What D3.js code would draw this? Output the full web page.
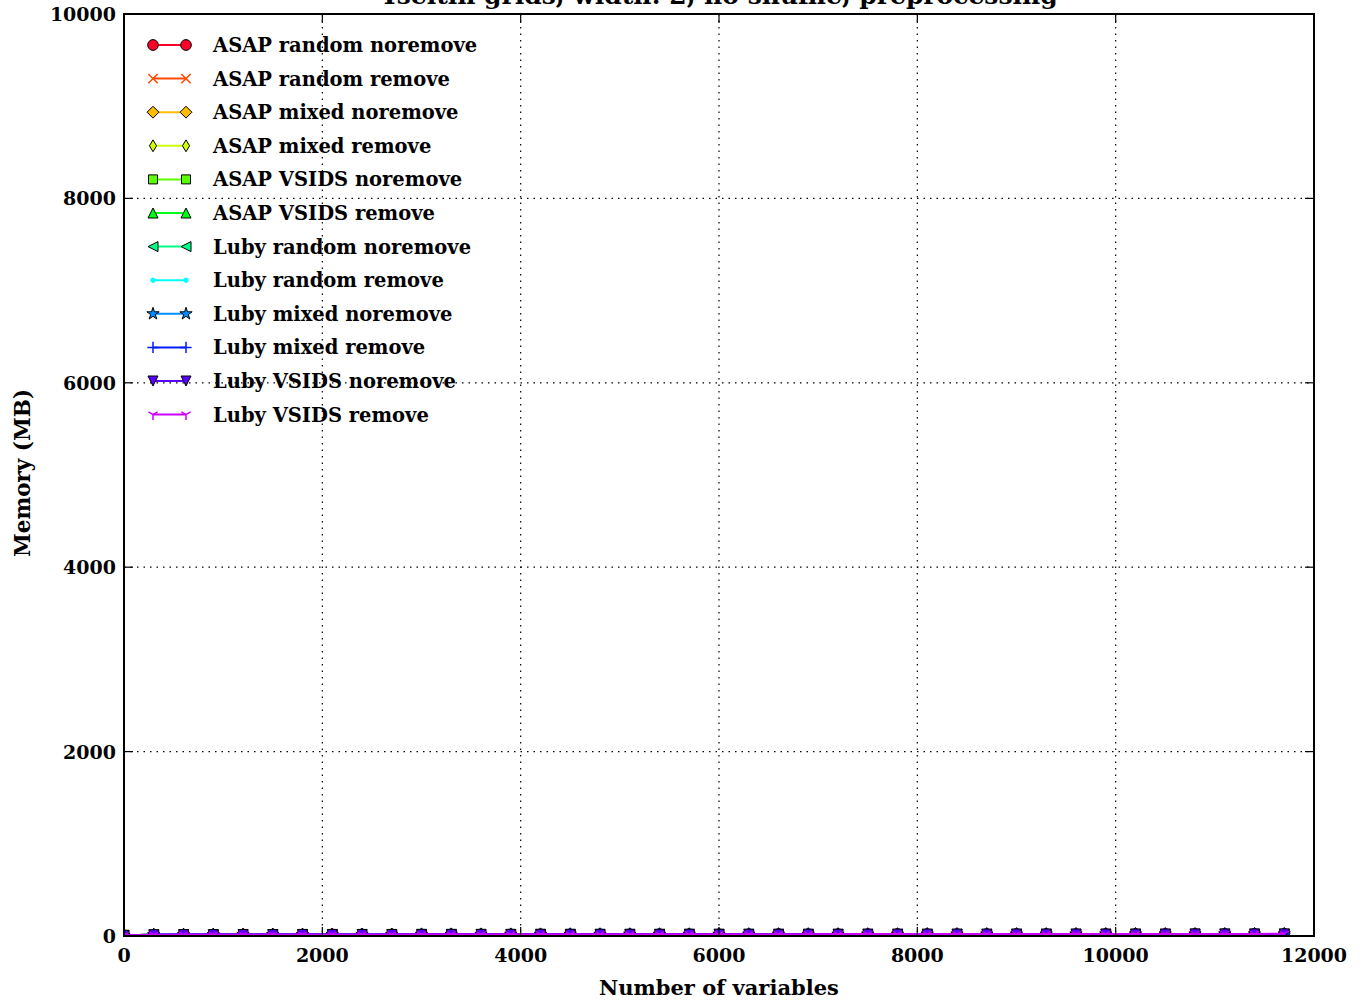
<!DOCTYPE html>
<html><head><meta charset="utf-8">
<script src="https://cdn.jsdelivr.net/npm/d3@7"></script>
<style>
body{margin:0;background:#fff;}
text{font-family:"DejaVu Serif",serif;font-weight:bold;fill:#000;}
</style></head><body>
<svg id="chart" width="1365" height="1000"></svg>
<script>
const title = "Tseitin grids, width: 2, no shuffle, preprocessing";
const xLabel = "Number of variables";
const yLabel = "Memory (MB)";
const xTicks = [0, 2000, 4000, 6000, 8000, 10000, 12000];
const yTicks = [0, 2000, 4000, 6000, 8000, 10000];
const seriesNames = ["ASAP random noremove","ASAP random remove","ASAP mixed noremove","ASAP mixed remove","ASAP VSIDS noremove","ASAP VSIDS remove","Luby random noremove","Luby random remove","Luby mixed noremove","Luby mixed remove","Luby VSIDS noremove","Luby VSIDS remove"];
const variables = [0,300,600,900,1200,1500,1800,2100,2400,2700,3000,3300,3600,3900,4200,4500,4800,5100,5400,5700,6000,6300,6600,6900,7200,7500,7800,8100,8400,8700,9000,9300,9600,9900,10200,10500,10800,11100,11400,11700];
const memASAPrandomNoremove = [8,14,15,15,16,16,16,17,17,17,17,18,18,18,18,18,19,19,19,19,19,19,20,20,20,20,20,20,21,21,21,21,21,21,22,22,22,22,22,22];
const memASAPrandomRemove   = [8,14,15,15,16,16,16,17,17,17,17,18,18,18,18,18,19,19,19,19,19,19,20,20,20,20,20,20,21,21,21,21,21,22,22,22,22,22,22,23];
const memASAPmixedNoremove  = [8,14,15,15,16,16,16,17,17,17,18,18,18,18,18,19,19,19,19,19,19,20,20,20,20,20,20,21,21,21,21,21,21,22,22,22,22,22,22,23];
const memASAPmixedRemove    = [8,14,15,15,16,16,16,17,17,17,18,18,18,18,18,19,19,19,19,19,19,20,20,20,20,20,21,21,21,21,21,21,22,22,22,22,22,22,23,23];
const memASAPVSIDSNoremove  = [8,14,15,15,16,16,17,17,17,17,18,18,18,18,19,19,19,19,19,20,20,20,20,20,20,21,21,21,21,21,21,22,22,22,22,22,23,23,23,23];
const memASAPVSIDSRemove    = [8,14,15,15,16,16,17,17,17,17,18,18,18,18,19,19,19,19,19,20,20,20,20,20,21,21,21,21,21,21,22,22,22,22,22,23,23,23,23,23];
const memLubyRandomNoremove = [8,14,15,15,16,16,16,17,17,17,17,18,18,18,18,18,19,19,19,19,19,19,20,20,20,20,20,20,21,21,21,21,21,21,22,22,22,22,22,22];
const memLubyRandomRemove   = [8,14,15,15,16,16,16,17,17,17,17,18,18,18,18,18,19,19,19,19,19,20,20,20,20,20,20,21,21,21,21,21,21,22,22,22,22,22,22,23];
const memLubyMixedNoremove  = [8,14,15,15,16,16,16,17,17,17,18,18,18,18,18,19,19,19,19,19,19,20,20,20,20,20,20,21,21,21,21,21,22,22,22,22,22,22,23,23];
const memLubyMixedRemove    = [8,14,15,15,16,16,16,17,17,17,18,18,18,18,18,19,19,19,19,19,20,20,20,20,20,20,21,21,21,21,21,21,22,22,22,22,22,23,23,23];
const memLubyVSIDSNoremove  = [8,14,15,15,16,16,17,17,17,17,18,18,18,18,19,19,19,19,19,20,20,20,20,20,20,21,21,21,21,21,22,22,22,22,22,22,23,23,23,23];
const memLubyVSIDSRemove    = [8,14,15,15,16,16,17,17,17,17,18,18,18,18,19,19,19,19,19,20,20,20,20,20,21,21,21,21,21,22,22,22,22,22,22,23,23,23,23,24];
const memorySeries = [memASAPrandomNoremove,memASAPrandomRemove,memASAPmixedNoremove,memASAPmixedRemove,memASAPVSIDSNoremove,memASAPVSIDSRemove,memLubyRandomNoremove,memLubyRandomRemove,memLubyMixedNoremove,memLubyMixedRemove,memLubyVSIDSNoremove,memLubyVSIDSRemove];

// styles
const colors = ["#ff0029","#ff4a00","#ffbc00","#cfff00","#5cff00","#00ff17","#00ff89","#00fffc","#008fff","#001cff","#5800ff","#cb00ff"];
const markers = ["o","x","D","d","s","^","<",".","*","+","v","1"];

const W = 1365, H = 1000;
const m = {left:124, right:1314, top:14, bottom:936};
const svg = d3.select("#chart");
const x = d3.scaleLinear().domain([0,12000]).range([m.left, m.right]);
const y = d3.scaleLinear().domain([0,10000]).range([m.bottom, m.top]);

svg.append("rect").attr("width",W).attr("height",H).attr("fill","#fff");

// grid
const grid = svg.append("g");
grid.selectAll("line.gx").data(xTicks.slice(1,-1)).join("line")
  .attr("x1",d=>x(d)).attr("x2",d=>x(d)).attr("y1",m.top).attr("y2",m.bottom)
  .attr("stroke","#000").attr("stroke-width",1.2).attr("stroke-dasharray","1.5,5");
grid.selectAll("line.gy").data(yTicks.slice(1,-1)).join("line")
  .attr("y1",d=>y(d)).attr("y2",d=>y(d)).attr("x1",m.left).attr("x2",m.right)
  .attr("stroke","#000").attr("stroke-width",1.2).attr("stroke-dasharray","1.5,5");

svg.append("clipPath").attr("id","clip").append("rect")
  .attr("x",m.left).attr("y",m.top).attr("width",m.right-m.left).attr("height",m.bottom-m.top);

const ms = 12.5;
function markerPath(mk, s){
  const r = s/2;
  switch(mk){
    case "o": { const q=r*0.85; return d3.symbol(d3.symbolCircle, Math.PI*q*q)(); }
    case ".": { const q=r*0.35; return d3.symbol(d3.symbolCircle, Math.PI*q*q)(); }
    case "x": { const q=r*0.75; return `M${-q},${-q}L${q},${q}M${-q},${q}L${q},${-q}`; }
    case "+": { const q=r*0.9; return `M${-q},0L${q},0M0,${-q}L0,${q}`; }
    case "D": { const q=r*0.95; return `M0,${-q}L${q},0L0,${q}L${-q},0Z`; }
    case "d": { const q=r*0.95; return `M0,${-q}L${q*0.6},0L0,${q}L${-q*0.6},0Z`; }
    case "s": { const q=r*0.72; return `M${-q},${-q}H${q}V${q}H${-q}Z`; }
    case "^": { const q=r*0.8; return `M0,${-q}L${q},${q}L${-q},${q}Z`; }
    case "v": { const q=r*0.8; return `M0,${q}L${q},${-q}L${-q},${-q}Z`; }
    case "<": { const q=r*0.8; return `M${-q},0L${q},${-q}L${q},${q}Z`; }
    case "*": return d3.symbol(d3.symbolStar, r*r*1.2)();
    case "1": { const q=r*0.85; return `M0,0L0,${q}M0,0L${-q*0.866},${-q*0.5}M0,0L${q*0.866},${-q*0.5}`; }
  }
}
const lineMarkers = new Set(["x","+","1"]);
function styleMarker(sel, i){
  const mk = markers[i];
  if(lineMarkers.has(mk)){
    sel.attr("fill","none").attr("stroke",colors[i]).attr("stroke-width",1.5);
  } else if(mk === "."){
    sel.attr("fill",colors[i]).attr("stroke",colors[i]).attr("stroke-width",1);
  } else {
    sel.attr("fill",colors[i]).attr("stroke","#000").attr("stroke-width",1);
  }
}

const plot = svg.append("g").attr("clip-path","url(#clip)");
const line = d3.line().x(d=>x(d[0])).y(d=>y(d[1]));
memorySeries.forEach((vals,i)=>{
  const pts = variables.map((v,k)=>[v, vals[k]]);
  const g = plot.append("g");
  g.append("path").datum(pts).attr("d",line).attr("fill","none")
    .attr("stroke",colors[i]).attr("stroke-width",2);
  g.selectAll("path.mk").data(pts).join("path").attr("class","mk")
    .attr("transform",d=>`translate(${x(d[0])},${y(d[1])})`)
    .attr("d",markerPath(markers[i], ms))
    .call(styleMarker, i);
});

// frame
svg.append("rect").attr("x",m.left).attr("y",m.top).attr("width",m.right-m.left).attr("height",m.bottom-m.top)
  .attr("fill","none").attr("stroke","#000").attr("stroke-width",2);

// ticks (inside, all sides)
const tl = 9;
const tk = svg.append("g").attr("stroke","#000").attr("stroke-width",1.2);
xTicks.forEach(t=>{
  tk.append("line").attr("x1",x(t)).attr("x2",x(t)).attr("y1",m.bottom).attr("y2",m.bottom-tl);
  tk.append("line").attr("x1",x(t)).attr("x2",x(t)).attr("y1",m.top).attr("y2",m.top+tl);
});
yTicks.forEach(t=>{
  tk.append("line").attr("y1",y(t)).attr("y2",y(t)).attr("x1",m.left).attr("x2",m.left+tl);
  tk.append("line").attr("y1",y(t)).attr("y2",y(t)).attr("x1",m.right).attr("x2",m.right-tl);
});

// tick labels
svg.selectAll("text.xt").data(xTicks).join("text").attr("class","xt")
  .attr("x",d=>x(d)).attr("y",m.bottom+26).attr("text-anchor","middle")
  .attr("font-size",19).text(d=>d);
svg.selectAll("text.yt").data(yTicks).join("text").attr("class","yt")
  .attr("x",m.left-8).attr("y",d=>y(d)+7).attr("text-anchor","end")
  .attr("font-size",19).text(d=>d);

// axis labels & title
svg.append("text").attr("x",(m.left+m.right)/2).attr("y",995).attr("text-anchor","middle")
  .attr("font-size",21).text(xLabel);
svg.append("text").attr("transform",`translate(30,${(m.top+m.bottom)/2 - 2}) rotate(-90)`)
  .attr("text-anchor","middle").attr("font-size",21.5).text(yLabel);
svg.append("text").attr("x",(m.left+m.right)/2).attr("y",4).attr("text-anchor","middle")
  .attr("font-size",25).text(title);

// legend
const lg = svg.append("g");
seriesNames.forEach((name,i)=>{
  const ly = 45 + i*33.6;
  const g = lg.append("g");
  g.append("line").attr("x1",153).attr("x2",186).attr("y1",ly).attr("y2",ly)
    .attr("stroke",colors[i]).attr("stroke-width",2);
  [153,186].forEach(px=>{
    g.append("path").attr("transform",`translate(${px},${ly})`).attr("d",markerPath(markers[i], ms))
      .call(styleMarker, i);
  });
  g.append("text").attr("x",213).attr("y",ly+7).attr("font-size",19.5).text(name);
});
</script></body></html>
